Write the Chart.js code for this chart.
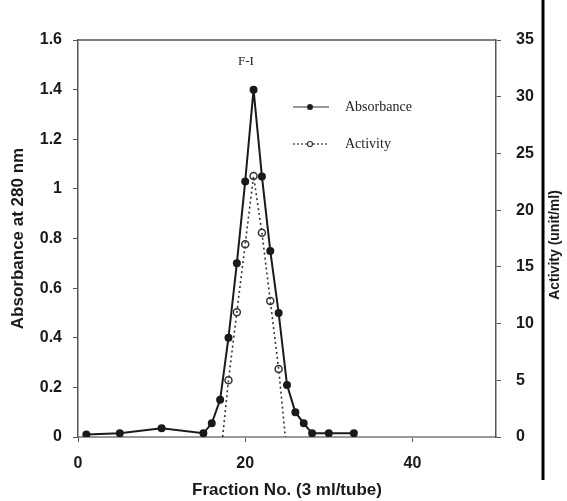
<!DOCTYPE html>
<html>
<head>
<meta charset="utf-8">
<script src="https://cdn.jsdelivr.net/npm/chart.js@4/dist/chart.umd.min.js"></script>
<style>
  body { margin: 0; background: #fff; }
</style>
</head>
<body>
<canvas id="myChart" width="567" height="501"></canvas>
<script>
// values
const absFraction = [1, 5, 10, 15, 16, 17, 18, 19, 20, 21, 22, 23, 24, 25, 26, 27, 28, 30, 33];
const absorbance = [0.01, 0.015, 0.035, 0.015, 0.055, 0.15, 0.40, 0.70, 1.03, 1.40, 1.05, 0.75, 0.50, 0.21, 0.10, 0.055, 0.015, 0.015, 0.015];
const actFraction = [17.3, 18, 19, 20, 21, 22, 23, 24, 24.8];
const activity = [0, 5, 11, 17, 23, 18, 12, 6, 0];

const xTitle = 'Fraction No. (3 ml/tube)';
const yTitle = 'Absorbance at 280 nm';
const y1Title = 'Activity (unit/ml)';
const peakLabel = 'F-I';

const sans = "'Liberation Sans', Arial, sans-serif";
const serif = "'Liberation Serif', 'Times New Roman', serif";
const ink = '#1a1a1a';

// frame top line, black bar on the right, right title, legend, peak label
const decorations = {
    id: 'decorations',
    afterDraw(chart) {
        const ctx = chart.ctx;
        const a = chart.chartArea;
        ctx.save();
        ctx.strokeStyle = '#555';
        ctx.lineWidth = 1.5;
        ctx.beginPath();
        ctx.moveTo(a.left, a.top);
        ctx.lineTo(a.right, a.top);
        ctx.stroke();

        ctx.strokeStyle = '#000';
        ctx.lineWidth = 3;
        ctx.beginPath();
        ctx.moveTo(543, 0);
        ctx.lineTo(543, 480);
        ctx.stroke();

        ctx.fillStyle = ink;
        ctx.font = 'bold 14px ' + sans;
        ctx.textAlign = 'center';
        ctx.textBaseline = 'middle';
        ctx.translate(555, 245);
        ctx.rotate(-Math.PI / 2);
        ctx.fillText(y1Title, 0, 0);
        ctx.restore();

        // legend
        ctx.save();
        const rows = [
            { text: 'Absorbance', y: 107, dash: [], fill: ink },
            { text: 'Activity', y: 144, dash: [2, 2], fill: '#fff' }
        ];
        rows.forEach(r => {
            ctx.strokeStyle = '#333';
            ctx.lineWidth = 1.2;
            ctx.setLineDash(r.dash);
            ctx.beginPath();
            ctx.moveTo(293, r.y);
            ctx.lineTo(329, r.y);
            ctx.stroke();
            ctx.setLineDash([]);
            ctx.beginPath();
            ctx.arc(310, r.y, 2.5, 0, Math.PI * 2);
            ctx.fillStyle = r.fill;
            ctx.fill();
            ctx.stroke();
            ctx.fillStyle = '#222';
            ctx.font = '14px ' + serif;
            ctx.textAlign = 'left';
            ctx.textBaseline = 'middle';
            ctx.fillText(r.text, 345, r.y);
        });
        ctx.font = '13px ' + serif;
        ctx.textAlign = 'center';
        ctx.fillText(peakLabel, 246, 62);
        ctx.restore();
    }
};

const ctx = document.getElementById('myChart').getContext('2d');
const chart = new Chart(ctx, {
    type: 'scatter',
    data: {
        datasets: [{
            label: 'Absorbance',
            data: absFraction.map((f, i) => ({ x: f, y: absorbance[i] })),
            yAxisID: 'y',
            showLine: true,
            borderColor: ink,
            borderWidth: 2,
            pointRadius: 3,
            pointBackgroundColor: ink,
            pointBorderColor: ink
        }, {
            label: 'Activity',
            data: actFraction.map((f, i) => ({ x: f, y: activity[i] })),
            yAxisID: 'y1',
            showLine: true,
            borderColor: '#333',
            borderWidth: 1.6,
            borderDash: [2, 3],
            pointRadius: c => activity[c.dataIndex] === 0 ? 0 : 3.5,
            pointBackgroundColor: 'rgba(255,255,255,0)',
            pointBorderColor: '#333',
            pointBorderWidth: 1.5
        }]
    },
    options: {
        responsive: false,
        animation: false,
        devicePixelRatio: 1,
        layout: { padding: { top: 40, left: 0, right: 0, bottom: 0 } },
        plugins: {
            legend: { display: false },
            tooltip: { enabled: false }
        },
        scales: {
            x: {
                type: 'linear',
                min: 0,
                max: 50,
                border: { color: '#999', width: 2 },
                grid: { drawOnChartArea: false, tickLength: 5, color: '#555' },
                ticks: { stepSize: 20, includeBounds: false, padding: 12, maxRotation: 0, color: ink, font: { family: sans, size: 16, weight: 'bold' } },
                title: { display: true, text: xTitle, color: ink, padding: { top: 0, bottom: 0 }, font: { family: sans, size: 17, weight: 'bold' } },
                afterFit: s => { s.height = 64; }
            },
            y: {
                position: 'left',
                min: 0,
                max: 1.6,
                border: { color: '#555', width: 1.5 },
                grid: { drawOnChartArea: false, tickLength: 5, color: '#555' },
                ticks: { stepSize: 0.2, padding: 11, color: ink, font: { family: sans, size: 16, weight: 'bold' }, callback: v => String(+v.toFixed(1)) },
                title: { display: true, text: yTitle, color: ink, padding: { top: 8, bottom: 0 }, font: { family: sans, size: 17, weight: 'bold' } },
                afterFit: s => { s.width = 78; }
            },
            y1: {
                position: 'right',
                min: 0,
                max: 35,
                border: { color: '#555', width: 1.5 },
                grid: { drawOnChartArea: false, tickLength: 5, color: '#555' },
                ticks: { stepSize: 5, padding: 15, color: ink, font: { family: sans, size: 16, weight: 'bold' } },
                afterFit: s => { s.width = 71; }
            }
        }
    },
    plugins: [decorations]
});
</script>
</body>
</html>
